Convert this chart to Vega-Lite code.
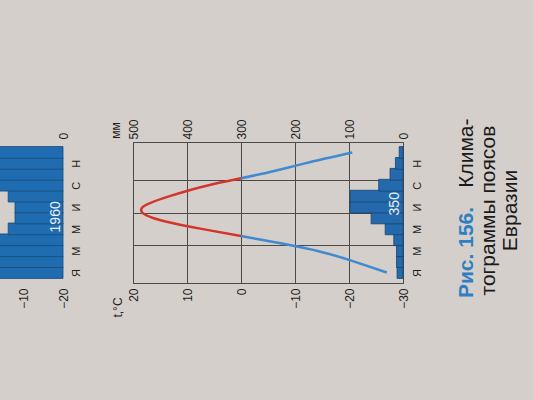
{
  "$schema": "https://vega.github.io/schema/vega-lite/v6.json",
  "autosize": "none",
  "width": 270,
  "height": 141,
  "padding": {"left": 133, "top": 142, "right": 130, "bottom": 117},
  "background": "#d4cfcb",
  "config": {
    "view": {"stroke": "#4a4a4a", "strokeWidth": 1},
    "font": "Liberation Sans",
    "axis": {"labelFont": "Liberation Sans", "titleFont": "Liberation Sans", "labelColor": "#1e1e1e", "titleColor": "#1e1e1e", "gridColor": "#4a4a4a", "gridOpacity": 1, "gridWidth": 1}
  },
  "datasets": {
    "climate": [
      {"month": 1, "temp": -27, "precip": 11},
      {"month": 2, "temp": -21, "precip": 12},
      {"month": 3, "temp": -14, "precip": 12},
      {"month": 4, "temp": -3.8, "precip": 17},
      {"month": 5, "temp": 7.3, "precip": 33},
      {"month": 6, "temp": 16.3, "precip": 59},
      {"month": 7, "temp": 18.2, "precip": 98},
      {"month": 8, "temp": 13.2, "precip": 98},
      {"month": 9, "temp": 6, "precip": 45},
      {"month": 10, "temp": -3.5, "precip": 24},
      {"month": 11, "temp": -11.8, "precip": 14},
      {"month": 12, "temp": -20.6, "precip": 7}
    ],
    "left": [
      {"month": 1, "precip": 180},
      {"month": 2, "precip": 180},
      {"month": 3, "precip": 180},
      {"month": 4, "precip": 180},
      {"month": 5, "precip": 137},
      {"month": 6, "precip": 120},
      {"month": 7, "precip": 120},
      {"month": 8, "precip": 137},
      {"month": 9, "precip": 180},
      {"month": 10, "precip": 180},
      {"month": 11, "precip": 180},
      {"month": 12, "precip": 180}
    ],
    "mainTotal": [{"total": "350"}],
    "leftTotal": [{"total": "1960"}]
  },
  "layer": [
    {
      "data": {"name": "left"},
      "mark": {"type": "bar", "orient": "horizontal", "height": 11.75, "color": "#1f6db0", "stroke": "#174a78", "strokeWidth": 0.8},
      "encoding": {
        "x": {"field": "precip", "type": "quantitative",
          "scale": {"domain": [0, 500], "range": [-70, -270], "nice": false, "zero": true},
          "axis": {"orient": "top", "values": [0], "grid": false, "ticks": false, "domain": false,
            "labelAngle": 270, "labelAlign": "left", "labelBaseline": "middle", "labelPadding": 3, "labelFontSize": 12, "title": null}},
        "y": {"field": "month", "type": "quantitative",
          "scale": {"domain": [0.5, 12.5], "nice": false, "zero": false},
          "axis": {"orient": "right", "offset": -340, "values": [1, 3, 5, 7, 9, 11], "labelExpr": "['','Я','','М','','М','','И','','С','','Н'][datum.value]",
            "grid": false, "ticks": false, "domain": false, "labelAngle": 270, "labelAlign": "center", "labelBaseline": "top", "labelPadding": 7, "labelFontSize": 11, "title": null}}
      }
    },
    {
      "data": {"name": "leftTotal"},
      "mark": {"type": "text", "angle": 270, "color": "#e8eef4", "fontSize": 14, "align": "center", "baseline": "middle"},
      "encoding": {
        "x": {"datum": -18.3, "type": "quantitative", "scale": {"domain": [-20, -10], "range": [-70, -110], "nice": false, "zero": false},
          "axis": {"orient": "bottom", "values": [-20, -10], "grid": false, "ticks": false, "domain": false,
            "labelAngle": 270, "labelAlign": "right", "labelBaseline": "middle", "labelPadding": 5, "labelFontSize": 12, "title": null}},
        "y": {"datum": 6.1, "type": "quantitative", "axis": null},
        "text": {"field": "total", "type": "nominal"}
      }
    },
    {
      "data": {"name": "climate"},
      "mark": {"type": "bar", "orient": "horizontal", "height": 11.75, "color": "#2369ab", "stroke": "#18446f", "strokeWidth": 0.8},
      "encoding": {
        "x": {"field": "precip", "type": "quantitative",
          "scale": {"domain": [0, 500], "reverse": true, "nice": false, "zero": true},
          "axis": {"orient": "top", "values": [0, 100, 200, 300, 400, 500], "grid": false, "ticks": false, "domain": false,
            "labelAngle": 270, "labelAlign": "left", "labelBaseline": "middle", "labelPadding": 3, "labelFontSize": 12,
            "title": "мм", "titleAngle": 270, "titleX": -18, "titleY": -12, "titleAlign": "center", "titleBaseline": "middle", "titleFontSize": 12, "titleFontWeight": "normal"}},
        "y": {"field": "month", "type": "quantitative",
          "scale": {"domain": [0.5, 12.5], "nice": false, "zero": false},
          "axis": {"orient": "right", "values": [1, 3, 5, 7, 9, 11], "labelExpr": "['','Я','','М','','М','','И','','С','','Н'][datum.value]",
            "grid": false, "ticks": false, "domain": false, "labelAngle": 270, "labelAlign": "center", "labelBaseline": "top", "labelPadding": 8, "labelFontSize": 11,
            "title": "Рис. 156.", "titleAngle": 270, "titleX": 63, "titleY": 110, "titleAlign": "center", "titleBaseline": "middle", "titleFontSize": 21, "titleFontWeight": "bold", "titleColor": "#2f7fc1"}}
      }
    },
    {
      "data": {"name": "climate"},
      "mark": {"type": "line", "interpolate": "natural", "strokeWidth": 2.5,
        "color": {"gradient": "linear", "x1": 0, "x2": 1, "y1": 0, "y2": 0,
          "stops": [{"offset": 0, "color": "#d2352c"}, {"offset": 0.405, "color": "#d2352c"}, {"offset": 0.405, "color": "#3f8ad0"}, {"offset": 1, "color": "#3f8ad0"}]}},
      "encoding": {
        "x": {"field": "temp", "type": "quantitative",
          "scale": {"domain": [-30, 20], "reverse": true, "nice": false, "zero": false},
          "axis": {"orient": "bottom", "values": [20, 10, 0, -10, -20, -30], "grid": true, "ticks": false, "domain": false,
            "labelAngle": 270, "labelAlign": "right", "labelBaseline": "middle", "labelPadding": 5, "labelFontSize": 12,
            "title": "t,°C", "titleAngle": 270, "titleX": -16, "titleY": 24, "titleAlign": "center", "titleBaseline": "middle", "titleFontSize": 12, "titleFontWeight": "normal"}},
        "y": {"field": "month", "type": "quantitative",
          "scale": {"domain": [0.5, 12.5], "nice": false, "zero": false},
          "axis": {"orient": "left", "values": [3.5, 6.5, 9.5], "grid": true, "labels": false, "ticks": false, "domain": false,
            "title": ["тограммы поясов", "Евразии"], "titleAngle": 270, "titleX": 355, "titleY": 68, "titleAlign": "center", "titleBaseline": "middle", "titleFontSize": 21, "titleFontWeight": "normal", "titleLineHeight": 22.5, "titleColor": "#1a1a1a"}},
        "order": {"field": "month", "type": "quantitative"}
      }
    },
    {
      "data": {"name": "mainTotal"},
      "mark": {"type": "text", "angle": 270, "color": "#e8eef4", "fontSize": 14, "align": "center", "baseline": "middle"},
      "encoding": {
        "x": {"datum": 15, "type": "quantitative", "scale": {"domain": [0, 500], "reverse": true, "nice": false},
          "axis": {"orient": "top", "labels": false, "grid": false, "ticks": false, "domain": false,
            "title": "Клима-", "titleAngle": 270, "titleX": 333, "titleY": -24, "titleAlign": "right", "titleBaseline": "middle", "titleFontSize": 21, "titleFontWeight": "normal", "titleColor": "#1a1a1a"}},
        "y": {"datum": 7.3, "type": "quantitative", "axis": null},
        "text": {"field": "total", "type": "nominal"}
      }
    }
  ],
  "resolve": {"scale": {"x": "independent"}, "axis": {"x": "independent", "y": "independent"}}
}
